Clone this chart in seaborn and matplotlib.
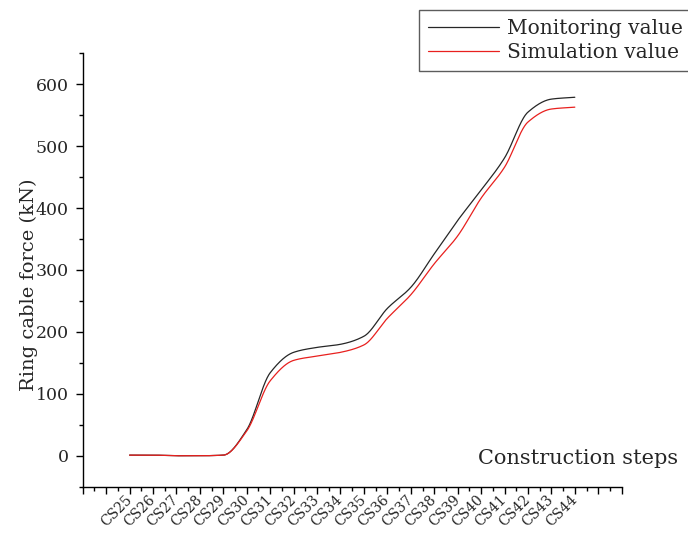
import numpy as np
import pandas as pd
import matplotlib
matplotlib.use("Agg")
import matplotlib.pyplot as plt
from matplotlib.ticker import FixedLocator
import seaborn as sns

# Construction steps and measured / simulated ring cable forces (kN)
steps = ["CS25", "CS26", "CS27", "CS28", "CS29", "CS30", "CS31", "CS32", "CS33", "CS34",
         "CS35", "CS36", "CS37", "CS38", "CS39", "CS40", "CS41", "CS42", "CS43", "CS44"]
monitoring = [1, 1, 0, 0, 1, 42, 134, 167, 175, 180,
              193, 238, 272, 326, 380, 429, 481, 555, 576, 579]
simulation = [1, 1, 0, 0, 1, 40, 121, 154, 161, 167,
              179, 222, 260, 310, 355, 416, 466, 539, 560, 563]
series_names = ["Monitoring value", "Simulation value"]
series_colors = ["#262626", "#e8201e"]
y_major = [0, 100, 200, 300, 400, 500, 600]


def pchip(x, y, xs):
    """Shape-preserving piecewise cubic Hermite interpolation."""
    x = np.asarray(x, float)
    y = np.asarray(y, float)
    h = np.diff(x)
    d = np.diff(y) / h
    m = np.zeros_like(y)
    for k in range(1, len(x) - 1):
        if d[k - 1] * d[k] > 0:
            w1 = 2 * h[k] + h[k - 1]
            w2 = h[k] + 2 * h[k - 1]
            m[k] = (w1 + w2) / (w1 / d[k - 1] + w2 / d[k])
    m[0] = d[0]
    m[-1] = d[-1]
    idx = np.clip(np.searchsorted(x, xs) - 1, 0, len(x) - 2)
    t = (xs - x[idx]) / h[idx]
    h00 = 2 * t**3 - 3 * t**2 + 1
    h10 = t**3 - 2 * t**2 + t
    h01 = -2 * t**3 + 3 * t**2
    h11 = t**3 - t**2
    return (h00 * y[idx] + h10 * h[idx] * m[idx]
            + h01 * y[idx + 1] + h11 * h[idx] * m[idx + 1])


pos = np.arange(len(steps))
xs = np.linspace(0, len(steps) - 1, 800)
frames = []
for name, vals in zip(series_names, [monitoring, simulation]):
    frames.append(pd.DataFrame({"step": xs, "force": pchip(pos, vals, xs), "series": name}))
curve = pd.concat(frames, ignore_index=True)

sns.set_theme(style="ticks")
plt.rcParams["font.family"] = ["DejaVu Serif"]
plt.rcParams["axes.linewidth"] = 1.0

fig = plt.figure(figsize=(6.88, 5.38), dpi=100)
ax = fig.add_axes([82.7 / 688, 1 - 486.7 / 538, (621.7 - 82.7) / 688, (486.7 - 53.3) / 538])

sns.lineplot(data=curve, x="step", y="force", hue="series", hue_order=series_names,
             palette=series_colors, linewidth=0.9, ax=ax, legend=False, estimator=None,
             sort=False)

ax.set_xlim(-2, 21)
ax.set_ylim(-50, 650)
for side in ["top", "right"]:
    ax.spines[side].set_visible(False)
for side in ["left", "bottom"]:
    ax.spines[side].set_color("black")

# x axis: every step gets a major tick, half steps get minor ticks
major_x = list(range(-2, 22))
ax.set_xticks(major_x)
ax.set_xticklabels([steps[i] if 0 <= i < len(steps) else "" for i in major_x],
                   rotation=45, ha="right", va="center", rotation_mode="anchor",
                   fontsize=10)
ax.xaxis.set_minor_locator(FixedLocator(np.arange(-1.5, 21, 1.0)))

ax.set_yticks(y_major)
ax.set_yticklabels([str(v) for v in y_major], fontsize=12.5)
ax.yaxis.set_minor_locator(FixedLocator(np.arange(-50, 651, 100)))

ax.tick_params(which="major", direction="out", length=5, width=1.0, color="black")
ax.tick_params(which="minor", direction="out", length=3, width=1.0, color="black")
ax.tick_params(axis="x", which="major", pad=3)
ax.tick_params(axis="y", which="major", pad=5)

ax.set_xlabel("")
ax.set_ylabel("Ring cable force (kN)", fontsize=14)
ax.yaxis.set_label_coords(-0.083, 0.465)

fig.text(478 / 688, 1 - 458 / 538, "Construction steps", fontsize=15,
         ha="left", va="center")

handles = ax.get_lines()[:2]
leg = fig.legend(handles, series_names, loc="upper left",
                 bbox_to_anchor=(419 / 688, 1 - 10 / 538), fontsize=14.5,
                 frameon=True, fancybox=False, edgecolor="#333333",
                 handlelength=3.5, handletextpad=0.4, labelspacing=0.26,
                 borderpad=0.45, borderaxespad=0)
leg.get_frame().set_linewidth(1.0)

fig.savefig("out.png", dpi=100)
